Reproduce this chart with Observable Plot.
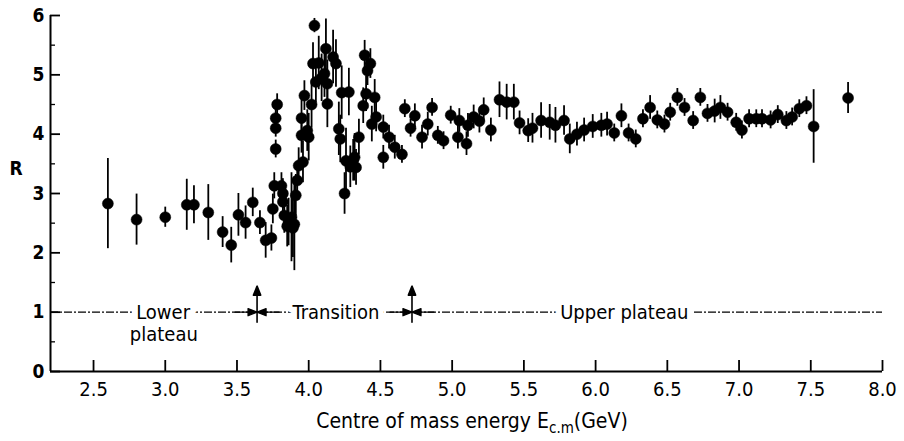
<!DOCTYPE html>
<html><head><meta charset="utf-8">
<script src="https://cdn.jsdelivr.net/npm/d3@7"></script>
<script src="https://cdn.jsdelivr.net/npm/@observablehq/plot@0.6"></script>
<style>body{margin:0;background:#fff} svg{display:block}</style>
</head><body><div id="chart"></div>
<script>
// Centre-of-mass energy (GeV)
const energy = [2.60,2.80,3.00,3.15,3.20,3.30,3.40,3.46,3.51,3.56,3.61,3.66,3.70,3.74,3.75,3.76,3.77,3.77,3.77,3.78,
  3.81,3.82,3.82,3.83,3.85,3.86,3.88,3.89,3.90,3.91,3.92,3.93,3.95,3.95,3.96,3.97,3.99,4.00,4.02,4.03,
  4.04,4.05,4.07,4.09,4.11,4.12,4.13,4.13,4.17,4.19,4.21,4.22,4.23,4.25,4.26,4.28,4.29,4.31,4.32,4.33,
  4.35,4.38,4.39,4.40,4.41,4.43,4.44,4.46,4.47,4.52,4.52,4.56,4.60,4.65,4.67,4.71,4.74,4.79,4.83,4.86,
  4.90,4.94,4.99,5.04,5.05,5.10,5.11,5.15,5.19,5.22,5.27,5.33,5.38,5.43,5.47,5.53,5.56,5.62,5.68,5.72,
  5.78,5.82,5.87,5.92,5.98,6.04,6.08,6.13,6.18,6.23,6.28,6.33,6.38,6.43,6.48,6.52,6.57,6.62,6.68,6.73,
  6.78,6.83,6.87,6.92,6.98,7.02,7.07,7.12,7.16,7.22,7.27,7.33,7.37,7.42,7.47,7.52,7.76];
// R values
const ratio = [2.83,2.56,2.60,2.81,2.81,2.68,2.35,2.13,2.64,2.51,2.85,2.51,2.21,2.25,2.74,3.13,3.75,4.10,4.27,4.50,
  3.13,3.00,2.86,2.63,2.45,2.52,2.60,2.42,2.48,2.97,3.22,3.47,3.98,4.27,3.53,4.65,4.06,3.95,4.50,5.19,
  5.83,4.88,5.20,4.95,5.02,5.44,4.51,4.85,5.30,5.19,4.09,3.92,4.70,3.00,3.55,4.71,3.45,3.56,3.61,3.44,
  3.95,4.48,5.33,4.68,5.07,5.19,4.17,4.62,4.29,4.12,3.61,3.95,3.78,3.66,4.43,4.10,4.31,3.95,4.17,4.45,
  3.98,3.89,4.32,3.95,4.23,3.84,4.15,4.29,4.22,4.41,4.07,4.58,4.54,4.54,4.19,4.06,4.10,4.23,4.20,4.15,
  4.23,3.92,4.00,4.07,4.13,4.15,4.17,4.02,4.31,4.02,3.92,4.26,4.45,4.24,4.17,4.37,4.62,4.45,4.23,4.62,
  4.35,4.39,4.45,4.37,4.20,4.07,4.26,4.26,4.26,4.24,4.33,4.23,4.29,4.43,4.48,4.13,4.61];
// error bar half-lengths
const ratioErr = [0.76,0.43,0.17,0.43,0.32,0.47,0.26,0.30,0.36,0.28,0.24,0.20,0.30,0.22,0.25,0.22,0.15,0.15,0.15,0.18,
  0.22,0.25,0.25,0.30,0.35,0.40,0.75,0.50,0.78,0.35,0.30,0.30,0.30,0.30,0.35,0.25,0.35,0.40,0.40,0.35,
  0.12,0.35,0.45,0.40,0.40,0.50,0.40,0.40,0.45,0.40,0.45,0.40,0.45,0.35,0.55,0.40,0.35,0.35,0.40,0.30,
  0.30,0.30,0.25,0.30,0.25,0.25,0.30,0.30,0.25,0.20,0.20,0.20,0.20,0.15,0.15,0.15,0.20,0.20,0.20,0.15,
  0.15,0.15,0.15,0.20,0.20,0.20,0.20,0.20,0.20,0.20,0.20,0.30,0.30,0.30,0.20,0.20,0.25,0.30,0.30,0.30,
  0.25,0.25,0.20,0.20,0.20,0.20,0.20,0.15,0.20,0.15,0.15,0.15,0.20,0.15,0.15,0.15,0.15,0.15,0.15,0.15,
  0.15,0.20,0.20,0.15,0.15,0.15,0.15,0.15,0.15,0.15,0.15,0.15,0.15,0.15,0.15,0.62,0.26];

const xTicks = [2.5,3.0,3.5,4.0,4.5,5.0,5.5,6.0,6.5,7.0,7.5,8.0];
const yTicks = [0,1,2,3,4,5,6];
const yMinorTicks = [0.5,1.5,2.5,3.5,4.5,5.5];
const xDomain = [2.2, 8.0];
const yDomain = [0, 6];
const regionBounds = [3.64, 4.72];          // boundaries marked with arrows
const regionLevel = [1];                      // R level of the annotation line
const regionNames = ["Lower", "Transition", "Upper plateau"];
const regionNameE = [2.985, 4.19, 6.20];
const subNames = ["plateau"];
const subNameE = [2.99];

const W = 904, H = 441, mL = 50, mR = 22, mT = 15, mB = 70;
const plotW = W - mL - mR, plotH = H - mT - mB;
const font = "'DejaVu Sans Condensed','DejaVu Sans',sans-serif";
const data = energy.map((e, i) => ({e, r: ratio[i], err: ratioErr[i]}));

const arrowShape = {draw(ctx, l) {
  const h = 9, w = 3.6;
  ctx.moveTo(0, 0); ctx.lineTo(0, -l + h);
  ctx.moveTo(0, -l); ctx.lineTo(-w, -l + h); ctx.lineTo(w, -l + h); ctx.closePath();
}};

const chart = Plot.plot({
  width: W, height: H, marginLeft: mL, marginRight: mR, marginTop: mT, marginBottom: mB,
  style: {fontFamily: font, background: "white", color: "black"},
  x: {domain: xDomain}, y: {domain: yDomain},
  marks: [
    Plot.ruleY(regionLevel, {y: d => d, stroke: "black", strokeWidth: 1.1, strokeDasharray: "8,2,2,2"}),
    Plot.text(regionNames, {x: (d, i) => regionNameE[i], y: () => regionLevel[0], text: d => d,
      fontSize: 20, fill: "black", stroke: "white", strokeWidth: 12, paintOrder: "stroke"}),
    Plot.text(subNames, {x: (d, i) => subNameE[i], y: () => regionLevel[0], text: d => d, dy: 22,
      fontSize: 20, fill: "black"}),
    Plot.vector(regionBounds, {x: d => d, y: () => regionLevel[0], rotate: 90, length: 22, anchor: "end",
      shape: arrowShape, stroke: "black", fill: "black", strokeWidth: 1.3}),
    Plot.vector(regionBounds, {x: d => d, y: () => regionLevel[0], rotate: -90, length: 22, anchor: "end",
      shape: arrowShape, stroke: "black", fill: "black", strokeWidth: 1.3}),
    Plot.vector(regionBounds, {x: d => d, y: () => regionLevel[0], rotate: 0, length: 36, anchor: "start", dy: 10,
      shape: arrowShape, stroke: "black", fill: "black", strokeWidth: 1.6}),
    Plot.ruleX(data, {x: "e", y1: d => d.r - d.err, y2: d => d.r + d.err, stroke: "black", strokeWidth: 1.8}),
    Plot.dot(data, {x: "e", y: "r", r: 5.5, fill: "black", stroke: "black", strokeWidth: 0.5}),
    Plot.ruleX([xDomain[0]], {x: d => d, stroke: "black", strokeWidth: 2}),
    Plot.ruleY([yDomain[0]], {y: d => d, stroke: "black", strokeWidth: 2}),
    Plot.tickX(xTicks, {x: d => d, insetTop: plotH - 11, stroke: "black", strokeWidth: 1.8}),
    Plot.tickY(yTicks, {y: d => d, insetRight: plotW - 10, stroke: "black", strokeWidth: 1.8}),
    Plot.tickY(yMinorTicks, {y: d => d, insetRight: plotW - 5, stroke: "black", strokeWidth: 1.3}),
    Plot.axisX(xTicks, {tickSize: 0, tickPadding: 10, tickFormat: d => d.toFixed(1), fontSize: 20, label: null}),
    Plot.axisY(yTicks, {tickSize: 0, tickPadding: 6, tickFormat: d => String(d), fontSize: 19, fontWeight: "bold", label: null})
  ]
});

const svg = d3.select(chart);
svg.append("text").attr("x", 16).attr("y", 175).attr("text-anchor", "middle")
  .attr("font-size", 19).attr("font-weight", "bold").attr("fill", "black").text("R");
const t = svg.append("text").attr("x", 472).attr("y", 428).attr("text-anchor", "middle")
  .attr("font-size", 21).attr("fill", "black");
t.append("tspan").text("Centre of mass energy E");
t.append("tspan").attr("font-size", 15).attr("dy", 5).text("c.m");
t.append("tspan").attr("dy", -5).text("(GeV)");
document.getElementById("chart").appendChild(chart);
</script>
</body></html>
